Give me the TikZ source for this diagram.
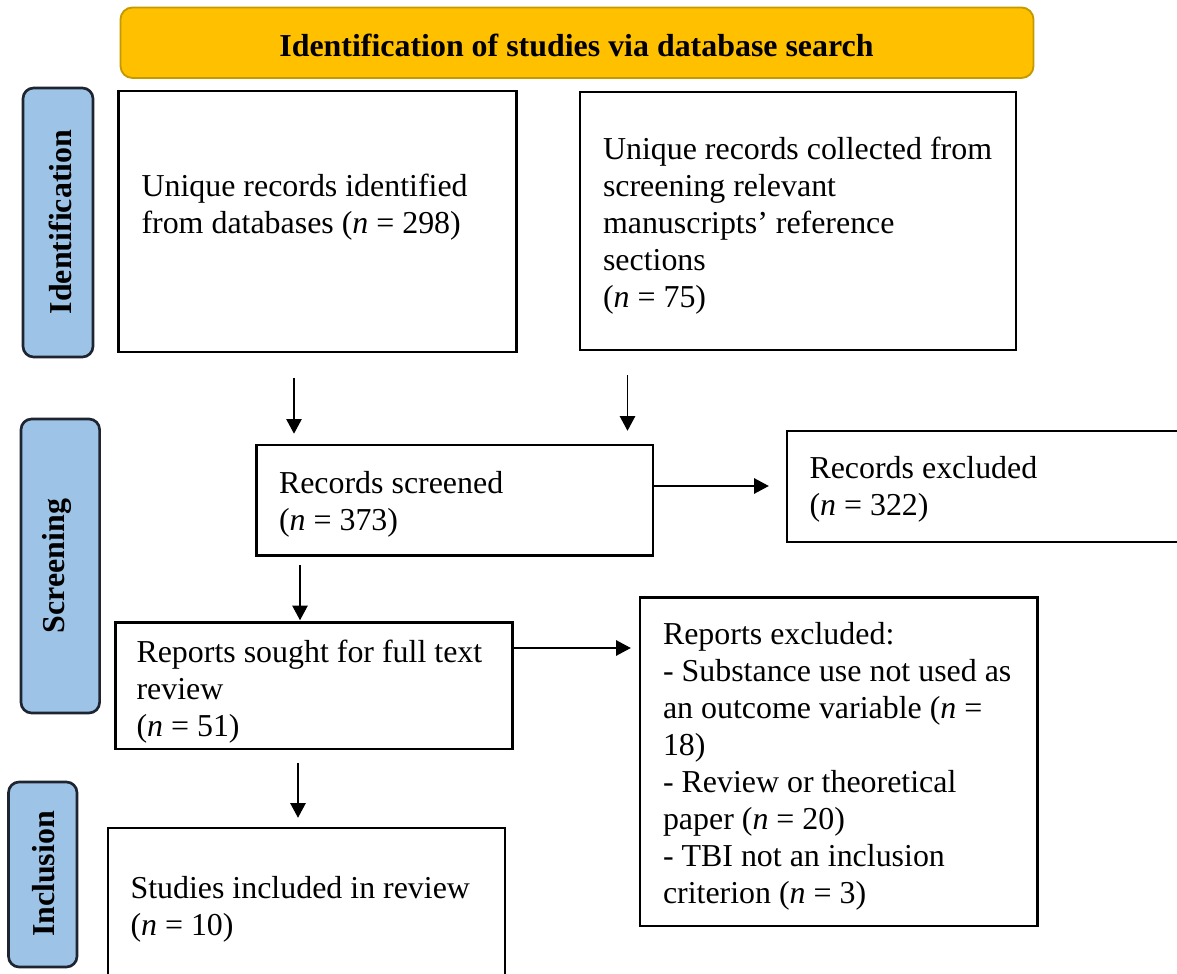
\documentclass[tikz,border=0pt]{standalone}
\usepackage{fontspec}
\setmainfont{Liberation Serif}
\usetikzlibrary{arrows.meta,fit}
\definecolor{gold}{HTML}{FFC000}
\definecolor{golddark}{HTML}{C49A00}
\definecolor{lblue}{HTML}{9DC3E6}
\definecolor{lborder}{HTML}{1E2530}
\begin{document}
\begin{tikzpicture}[x=0.376pt,y=-0.376pt,
  frame/.style={draw=black, line width=0.9pt, inner sep=0pt},
  phase/.style={draw=lborder, fill=lblue, line width=1pt, rounded corners=4pt, inner sep=0pt},
  phasetxt/.style={rotate=90, font=\bfseries\fontsize{12}{14}\selectfont, inner sep=0pt},
  txt/.style={anchor=base west, align=left, text width=160pt, inner sep=0pt, font=\fontsize{12}{13.9}\selectfont,
    execute at begin node={\spaceskip=0pt\xspaceskip=0pt\relax}},
  arr/.style={-{Triangle[length=5.5pt,width=5.8pt]}, line width=0.45pt}]
\useasboundingbox (0,0) rectangle (1177,974);
\clip (0,0) rectangle (1177,974);
\fill[white] (0,0) rectangle (1177,974);

% banner
\node[fit={(120.5,7.5) (1033.5,78)}, draw=golddark, fill=gold, line width=0.7pt, rounded corners=4.5pt, inner sep=0pt] (banner) {};
\node[anchor=base, font=\bfseries\fontsize{12}{14}\selectfont, inner sep=0pt] (bannertxt) at (576.5,56.5) {Identification of studies via database search};

% phase labels
\node[phase, fit={(23,88) (93,357)}] (pid) {};
\node[phasetxt] (pidt) at (60,222) {Identification};
\node[phase, fit={(21,419) (99.6,713)}] (psc) {};
\node[phasetxt] (psct) at (57,566) {Screening};
\node[phase, fit={(8.5,782) (77,967)}] (pin) {};
\node[phasetxt] (pint) at (44,874) {Inclusion};

% boxes
\node[frame, fit={(118.6,91) (516.6,352)}] (b1) {};
\node[txt] (t1) at (141,197) {Unique records identified\\from databases (\textit{n} = 298)};

\node[frame, fit={(579.7,92) (1016,350)}] (b2) {};
\node[txt] (t2) at (602.5,160) {Unique records collected from\\screening relevant\\manuscripts’ reference\\sections\\(\textit{n} = 75)};

\node[frame, fit={(256.5,445) (653,555.5)}] (b3) {};
\node[txt] (t3) at (278.5,493.5) {Records screened\\(\textit{n} = 373)};

\node[frame, fit={(787,431) (1195,542)}] (b4) {};
\node[txt] (t4) at (809,479) {Records excluded\\(\textit{n} = 322)};

\node[frame, fit={(115.5,622.5) (512.5,749)}] (b5) {};
\node[txt] (t5) at (136,663) {Reports sought for full text\\review\\(\textit{n} = 51)};

\node[frame, fit={(639.7,597.4) (1037.3,926)}] (b6) {};
\node[txt] (t6) at (662.5,644.5) {Reports excluded:\\- Substance use not used as\\an outcome variable (\textit{n} =\\18)\\- Review or theoretical\\paper (\textit{n} = 20)\\- TBI not an inclusion\\criterion (\textit{n} = 3)};

\node[frame, fit={(108,828) (505,1000)}] (b7) {};
\node[txt] (t7) at (130,899) {Studies included in review\\(\textit{n} = 10)};

% connectors
\coordinate (xa) at (294,0);
\draw[arr, shorten <=9.4pt, shorten >=3.8pt] (b1.south -| xa) -- (b3.north -| xa);
\coordinate (xb) at (627.5,0);
\draw[arr, shorten <=9pt, shorten >=4.9pt] (b2.south -| xb) -- (b3.north -| xb);
\coordinate (ya) at (0,486);
\draw[arr, shorten >=6.4pt] (b3.east |- ya) -- (b4.west |- ya);
\coordinate (xc) at (300,0);
\draw[arr, shorten <=3.1pt, shorten >=0.4pt] (b3.south -| xc) -- (b5.north -| xc);
\coordinate (yb) at (0,648);
\draw[arr, shorten >=2.9pt] (b5.east |- yb) -- (b6.west |- yb);
\coordinate (xd) at (298,0);
\draw[arr, shorten <=4.8pt, shorten >=3.4pt] (b5.south -| xd) -- (b7.north -| xd);
\end{tikzpicture}
\end{document}
